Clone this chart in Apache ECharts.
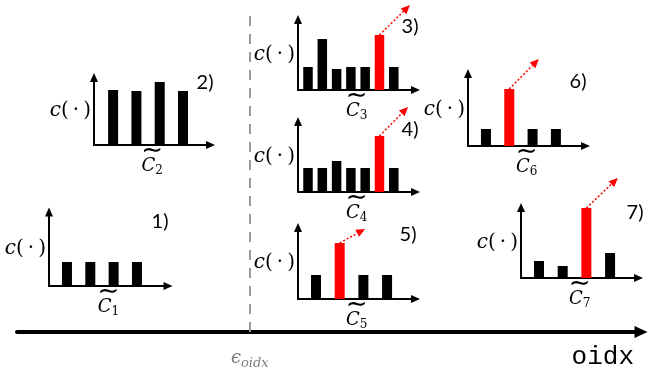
<!DOCTYPE html>
<html>
<head>
<meta charset="utf-8">
<script src="https://cdn.jsdelivr.net/npm/echarts@6/dist/echarts.min.js"></script>
<style>
  html, body { margin: 0; padding: 0; background: #fff; }
  #main { width: 664px; height: 372px; }
</style>
</head>
<body>
<div id="main"></div>
<script>
// bar heights of the seven small histograms
let counts1 = [24, 24, 24, 24];
let counts2 = [55, 54, 63, 54];
let counts3 = [23, 51, 21, 23, 23, 55, 23];
let counts4 = [24, 24, 31, 24, 24, 56, 24];
let counts5 = [24, 56, 24, 24];
let counts6 = [17, 57, 17, 17];
let counts7 = [17, 12, 70, 25];
let allCounts = [counts1, counts2, counts3, counts4, counts5, counts6, counts7];
// index of the red (highlighted) bar, -1 = none
let redIndex = [-1, -1, 5, 5, 1, 1, 2];
// where the dotted red arrow points to (x in bar index units, y in count units)
let arrowTips = [null, null, [7.13, 85], [7.0, 85], [2.07, 70], [2.27, 87], [3.33, 100]];
let panelNames = ['1)', '2)', '3)', '4)', '5)', '6)', '7)'];
let subscripts = ['1', '2', '3', '4', '5', '6', '7'];
// main axis
let epsilonOidx = 37.3;
let mainAxisName = 'oidx';

// layout of every panel (pixels) -- not data
let layout = [
  { left: 49,  top: 212,   width: 119,   height: 74,   xMin: -0.77, xMax: 4.33, bw: 10, tag: [160, 222] },
  { left: 94,  top: 77.5,  width: 116.5, height: 67.5, xMin: -0.82, xMax: 4.18, bw: 10, tag: [205, 83] },
  { left: 298, top: 19.5,  width: 117.5, height: 70.5, xMin: -0.70, xMax: 7.52, bw: 9.5, tag: [410, 27] },
  { left: 298, top: 121.5, width: 117.5, height: 70.5, xMin: -0.70, xMax: 7.52, bw: 9.5, tag: [410, 130] },
  { left: 298, top: 227.5, width: 117.5, height: 71.5, xMin: -0.76, xMax: 4.20, bw: 10, tag: [408, 235] },
  { left: 468, top: 73.5,  width: 117.5, height: 72.5, xMin: -0.77, xMax: 4.27, bw: 10, tag: [578, 82] },
  { left: 521, top: 207.5, width: 117.5, height: 70.5, xMin: -0.76, xMax: 4.20, bw: 10, tag: [635, 213] }
];

let chart = echarts.init(document.getElementById('main'));

function renderArrow(params, api) {
  let p1 = api.coord([api.value(0), api.value(1)]);
  let p2 = api.coord([api.value(2), api.value(3)]);
  let ang = Math.atan2(p2[1] - p1[1], p2[0] - p1[0]);
  let L = 9, W = 4;
  let back = [p2[0] - L * Math.cos(ang), p2[1] - L * Math.sin(ang)];
  let nx = -Math.sin(ang) * W, ny = Math.cos(ang) * W;
  return {
    type: 'group',
    children: [{
      type: 'line',
      shape: { x1: p1[0], y1: p1[1], x2: back[0], y2: back[1] },
      style: { stroke: '#ff0000', lineWidth: 1.5, lineDash: [2, 2] }
    }, {
      type: 'polygon',
      shape: { points: [p2, [back[0] + nx, back[1] + ny], [back[0] - nx, back[1] - ny]] },
      style: { fill: '#ff0000' }
    }]
  };
}

let grids = [], xAxes = [], yAxes = [], series = [], graphics = [];
let smallLine = { show: true, onZero: false, lineStyle: { color: '#000', width: 2 }, symbol: ['none', 'triangle'], symbolSize: [8, 9] };

for (let i = 0; i < layout.length; i++) {
  let g = layout[i];
  grids.push({ left: g.left, top: g.top, width: g.width, height: g.height });
  xAxes.push({
    type: 'value', gridIndex: i, min: g.xMin, max: g.xMax,
    axisLine: smallLine, axisTick: { show: false }, axisLabel: { show: false }, splitLine: { show: false },
    name: '{t|\u223C}\n{c|C}{s|' + subscripts[i] + '}',
    nameLocation: 'middle', nameGap: 3,
    nameTextStyle: {
      rich: {
        t: { fontFamily: 'DejaVu Sans', fontSize: 26, lineHeight: 7, color: '#000', width: 20, align: 'center' },
        c: { fontFamily: 'DejaVu Serif', fontStyle: 'italic', fontSize: 18, lineHeight: 18, color: '#000' },
        s: { fontFamily: 'DejaVu Serif', fontSize: 12, lineHeight: 22, verticalAlign: 'bottom', color: '#000' }
      }
    }
  });
  yAxes.push({
    type: 'value', gridIndex: i, min: 0, max: g.height,
    axisLine: smallLine, axisTick: { show: false }, axisLabel: { show: false }, splitLine: { show: false },
    name: '{i|c}(\u2009\u00B7\u2009)',
    nameLocation: 'middle', nameRotate: 0, nameGap: 3,
    nameTextStyle: {
      fontFamily: 'DejaVu Serif', fontSize: 20, color: '#000',
      rich: { i: { fontFamily: 'DejaVu Serif', fontStyle: 'italic', fontSize: 20, color: '#000' } }
    }
  });
  series.push({
    type: 'bar', xAxisIndex: i, yAxisIndex: i, barWidth: g.bw, silent: true,
    data: allCounts[i].map(function (v, k) {
      return { value: [k, v], itemStyle: { color: k === redIndex[i] ? '#ff0000' : '#000000' } };
    })
  });
  if (arrowTips[i]) {
    series.push({
      type: 'custom', xAxisIndex: i, yAxisIndex: i, silent: true,
      renderItem: renderArrow,
      encode: { x: [0, 2], y: [1, 3] },
      data: [[redIndex[i], allCounts[i][redIndex[i]], arrowTips[i][0], arrowTips[i][1]]]
    });
  }
  graphics.push({
    type: 'text', x: g.tag[0], y: g.tag[1],
    style: { text: panelNames[i], fontFamily: 'Lato', fontSize: 20, fill: '#000', align: 'center', verticalAlign: 'middle' }
  });
}

// the big oidx axis with the dashed epsilon line
let mi = layout.length;
grids.push({ left: 17, top: 12, width: 624, height: 320 });
xAxes.push({
  type: 'value', gridIndex: mi, min: 0, max: 100,
  axisLine: { show: true, onZero: false, lineStyle: { color: '#000', width: 4 }, symbol: ['none', 'triangle'], symbolSize: [12, 13] },
  axisTick: { show: false }, axisLabel: { show: false }, splitLine: { show: false },
  name: mainAxisName, nameLocation: 'end', nameGap: -7,
  nameTextStyle: { fontFamily: 'Liberation Mono', fontSize: 26, color: '#000', align: 'right', verticalAlign: 'top', padding: [12, 0, 0, 0] }
});
yAxes.push({ type: 'value', gridIndex: mi, min: 0, max: 1, show: false });
series.push({
  type: 'line', xAxisIndex: mi, yAxisIndex: mi, data: [[epsilonOidx, 0]], showSymbol: false, silent: true,
  markLine: {
    silent: true, symbol: 'none',
    lineStyle: { color: '#999999', width: 2, type: [10, 8] },
    label: {
      position: 'start', distance: 14,
      formatter: '{e|\u03F5}{s|oidx}',
      rich: {
        e: { fontFamily: 'DejaVu Serif', fontStyle: 'italic', fontSize: 18, color: '#7f7f7f' },
        s: { fontFamily: 'DejaVu Serif', fontStyle: 'italic', fontSize: 13, color: '#7f7f7f', verticalAlign: 'bottom', lineHeight: 24 }
      }
    },
    data: [{ xAxis: epsilonOidx }]
  }
});

let option = {
  animation: false,
  backgroundColor: '#fff',
  grid: grids,
  xAxis: xAxes,
  yAxis: yAxes,
  series: series,
  graphic: graphics
};

chart.setOption(option, true);
</script>
</body>
</html>
